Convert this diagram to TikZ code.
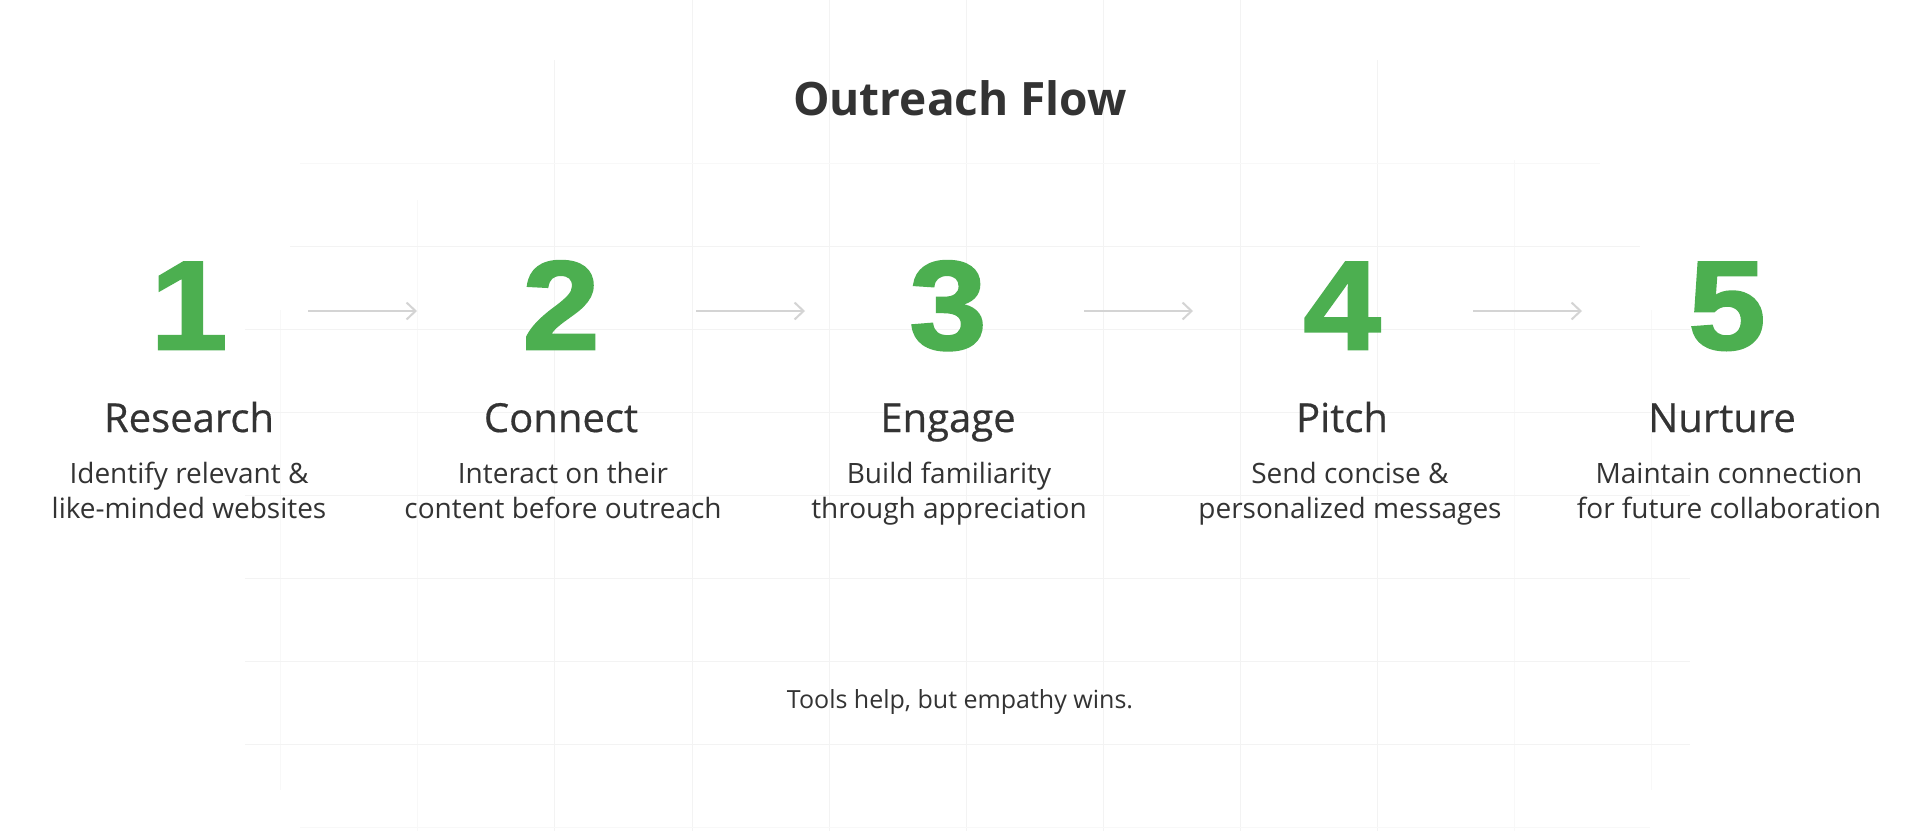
\documentclass[tikz,border=0pt]{standalone}
\usepackage{fontspec}
\usepackage{tikz}
\usetikzlibrary{arrows.meta}
\setmainfont{Open Sans}
\newfontfamily\medfont{Open Sans}[FakeBold=0.5]
\newfontfamily\digitfont{Liberation Sans}[FakeStretch=1.1,FakeBold=2]
\definecolor{flowgreen}{RGB}{76,175,80}
\definecolor{inkgray}{RGB}{51,51,51}
\definecolor{arrowgray}{RGB}{212,212,212}
\definecolor{gridgray}{RGB}{243,243,243}

\begin{document}
\begin{tikzpicture}[x=1pt, y=-1pt,
		gridline/.style={gridgray, line width=1pt},
		gridfaint/.style={gridgray!60, line width=1pt},
		flowarrow/.style={arrowgray, line width=2pt, -{Straight Barb[length=9pt, width=17pt]}},
		digit/.style={anchor=base, inner sep=0pt, flowgreen, font=\digitfont\bfseries\fontsize{126}{126}\selectfont},
		steptitle/.style={anchor=base, inner sep=0pt, inkgray, font=\medfont\fontsize{40}{48}\selectfont},
		stepdesc/.style={anchor=base, inner sep=0pt, inkgray, align=center, font=\fontsize{28}{35}\selectfont}]

				\useasboundingbox (0,0) rectangle (1920,831);
				\fill[white] (0,0) rectangle (1920,831);

				% background grid
				\draw[gridfaint] (280,310)--(280,790);
				\draw[gridfaint] (417,200)--(417,831);
				\draw[gridline] (554,60)--(554,831);
				\draw[gridline] (692,0)--(692,831);
				\draw[gridline] (829,0)--(829,831);
				\draw[gridline] (966,0)--(966,831);
				\draw[gridline] (1103,0)--(1103,831);
				\draw[gridline] (1240,0)--(1240,831);
				\draw[gridline] (1377,60)--(1377,831);
				\draw[gridfaint] (1514,160)--(1514,831);
				\draw[gridfaint] (1651,310)--(1651,790);
				\draw[gridfaint] (300,163)--(1600,163);
				\draw[gridline] (290,246)--(1640,246);
				\draw[gridline] (245,329)--(1690,329);
				\draw[gridline] (245,412)--(1690,412);
				\draw[gridline] (245,495)--(1690,495);
				\draw[gridline] (245,578)--(1690,578);
				\draw[gridline] (245,661)--(1690,661);
				\draw[gridline] (245,744)--(1690,744);
				\draw[gridfaint] (300,827)--(1650,827);

				\node (title) at (960,115) [anchor=base, inner sep=0pt, inkgray, font=\bfseries\fontsize{46}{55}\selectfont] {Outreach Flow};

				\node (d1) at (189,349) [digit] {1};
				\node (d2) at (561,349) [digit] {2};
				\node (d3) at (948,349) [digit] {3};
				\node (d4) at (1342,349) [digit] {4};
				\node (d5) at (1727,349) [digit] {5};

				\node (t1) at (189,432) [steptitle] {Research};
				\node (t2) at (561,432) [steptitle] {Connect};
				\node (t3) at (948,432) [steptitle] {Engage};
				\node (t4) at (1342,432) [steptitle] {Pitch};
				\node (t5) at (1722,432) [steptitle] {Nurture};

				% base of a two-line node is its second line
				\node (s1) at (189,518) [stepdesc] {Identify relevant \&\\like-minded websites};
				\node (s2) at (563,518) [stepdesc] {Interact on their\\content before outreach};
				\node (s3) at (949,518) [stepdesc] {Build familiarity\\through appreciation};
				\node (s4) at (1350,518) [stepdesc] {Send concise \&\\personalized messages};
				\node (s5) at (1729,518) [stepdesc] {Maintain connection\\for future collaboration};

				\coordinate (a1) at (308,311); \coordinate (b1) at (417,311);
				\coordinate (a2) at (696,311); \coordinate (b2) at (805,311);
				\coordinate (a3) at (1084,311); \coordinate (b3) at (1193,311);
				\coordinate (a4) at (1473,311); \coordinate (b4) at (1582,311);
				\draw[flowarrow] (a1)--(b1);
				\draw[flowarrow] (a2)--(b2);
				\draw[flowarrow] (a3)--(b3);
				\draw[flowarrow] (a4)--(b4);

				\node (motto) at (960,708) [anchor=base, inner sep=0pt, inkgray, font=\fontsize{25}{30}\selectfont] {Tools help, but empathy wins.};

\end{tikzpicture}
\end{document}
